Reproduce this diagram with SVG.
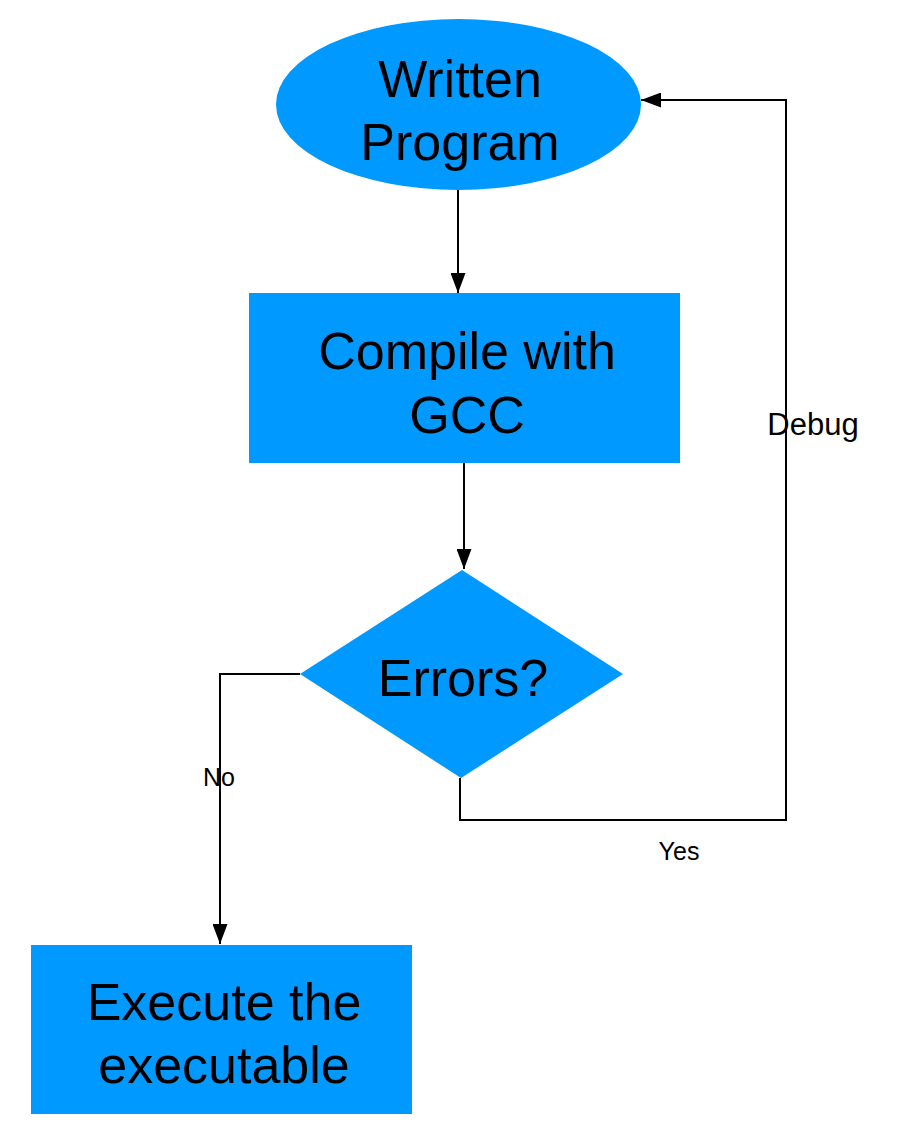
<svg xmlns="http://www.w3.org/2000/svg" width="916" height="1138" viewBox="0 0 916 1138">
  <defs>
    <marker id="arrow" markerUnits="userSpaceOnUse" markerWidth="20" markerHeight="15" refX="20" refY="7.5" orient="auto">
      <path d="M0,0 L20,7.5 L0,15 z" fill="#000"/>
    </marker>
    <style>
      .node { fill: #0099FF; stroke: none; }
      .big { font-family: "Liberation Sans", Arial, Helvetica, sans-serif; font-size: 52px; fill: #000; text-anchor: middle; }
      .lbl { font-family: "Liberation Sans", Arial, Helvetica, sans-serif; fill: #000; text-anchor: middle; }
      .edge { fill: none; stroke: #000; stroke-width: 2; }
    </style>
  </defs>
  <rect width="916" height="1138" fill="#fff"/>

  <g id="written-program">
    <ellipse class="node" cx="458.5" cy="104.5" rx="182.5" ry="85.5"/>
    <text class="big" x="460" y="97">Written</text>
    <text class="big" x="460" y="160">Program</text>
  </g>

  <g id="compile">
    <rect class="node" x="249" y="293" width="431" height="170"/>
    <text class="big" x="467" y="369">Compile with</text>
    <text class="big" x="467" y="433">GCC</text>
  </g>

  <g id="errors">
    <polygon class="node" points="462,570 623,674 461,778 300,674"/>
    <text class="big" x="463" y="696">Errors?</text>
  </g>

  <g id="execute">
    <rect class="node" x="31" y="945" width="381" height="169"/>
    <text class="big" x="224" y="1020">Execute the</text>
    <text class="big" x="224" y="1083">executable</text>
  </g>

  <g id="connectors">
    <path class="edge" d="M458,190 L458,293" marker-end="url(#arrow)"/>
    <path class="edge" d="M464,463 L464,569" marker-end="url(#arrow)"/>
    <path class="edge" d="M300,674 L220,674 L220,944" marker-end="url(#arrow)"/>
    <path class="edge" d="M460,778 L460,820 L786,820 L786,100 L641,100" marker-end="url(#arrow)"/>
    <text class="lbl" x="219" y="786" font-size="25">No</text>
    <text class="lbl" x="679" y="860" font-size="25">Yes</text>
    <text class="lbl" x="813" y="435" font-size="31">Debug</text>
  </g>
</svg>
